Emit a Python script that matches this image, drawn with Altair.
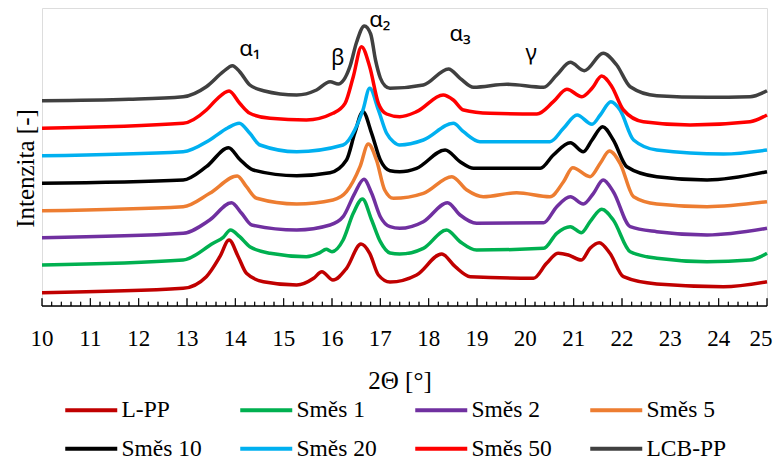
import altair as alt
import pandas as pd
import numpy as np

SERIES = ["L-PP", "Směs 1", "Směs 2", "Směs 5", "Směs 10", "Směs 20", "Směs 50", "LCB-PP"]
COLORS = ["#C00000", "#00B050", "#7030A0", "#ED7D31", "#000000", "#00B0F0", "#FF0000", "#404040"]

# ---- curves (2Θ, stacked intensity in arbitrary units) ----
lpp_x = [10, 12.92, 13.4, 13.68, 13.87, 14.06, 14.23, 14.58, 15.27, 15.62, 15.79, 16.02, 16.3, 16.6, 16.78, 16.96, 17.2, 17.75, 18.27, 18.55, 18.86, 20.17, 20.44, 20.68, 20.89, 21.16, 21.34, 21.53, 21.75, 22.03, 22.72, 24.1, 25]
lpp_y = [13.3, 17.7, 29.3, 49.3, 66, 49.3, 32.7, 24.3, 21, 27.7, 34.3, 26, 37.7, 62, 52.7, 31, 24, 31, 52, 39.3, 29.3, 27.7, 42.7, 52.7, 51, 46, 57.7, 63.3, 52.7, 29.3, 22, 19.3, 24.3]

s1_x = [10, 12.92, 13.54, 13.75, 13.9, 14.09, 14.3, 14.72, 15.47, 15.75, 15.88, 16.0, 16.23, 16.44, 16.63, 16.82, 17.0, 17.2, 17.4, 17.89, 18.37, 18.65, 18.99, 20.38, 20.65, 20.93, 21.16, 21.34, 21.58, 21.82, 22.17, 22.72, 23.76, 24.65, 25]
s1_y = [41, 46, 62.7, 68.7, 76, 69.3, 59.3, 52.7, 49.3, 53.3, 56.7, 54.3, 66, 92.7, 107, 86, 64.3, 53, 52, 57.7, 76, 64.3, 56, 57.7, 72.7, 79.3, 73.3, 84.3, 96.7, 86, 54.3, 47.7, 44.3, 46, 52.7]

s2_x = [10, 12.92, 13.47, 13.92, 14.13, 14.34, 15.27, 15.96, 16.23, 16.47, 16.66, 16.82, 17.0, 17.2, 17.4, 17.89, 18.39, 18.65, 18.99, 20.38, 20.65, 20.93, 21.2, 21.41, 21.61, 21.82, 22.17, 22.72, 23.76, 25]
s2_y = [68.3, 72.7, 86, 103.3, 92.7, 81, 76, 81, 89.3, 112.7, 126.7, 112.7, 89.3, 79.3, 77.7, 84.3, 103.3, 91, 82.7, 83.3, 99.3, 109.3, 102, 112.7, 126, 114.3, 79.3, 74.3, 71, 77.7]

s5_x = [10, 12.92, 13.47, 14.04, 14.23, 14.44, 15.27, 16.02, 16.3, 16.58, 16.75, 16.92, 17.09, 17.27, 17.89, 18.48, 18.79, 19.13, 19.82, 20.51, 20.79, 20.98, 21.34, 21.55, 21.74, 21.96, 22.24, 22.72, 23.76, 25]
s5_y = [95.3, 99.3, 112.7, 130, 119.3, 107.7, 102, 106, 114.3, 139.3, 162, 146, 116, 107.7, 112.7, 129.3, 116, 109.3, 113.3, 109.3, 124.3, 138.3, 129.3, 142.7, 155, 142.7, 109.3, 102, 99.3, 104.3]

s10_x = [10, 12.92, 13.4, 13.86, 14.09, 14.37, 15.27, 15.96, 16.3, 16.47, 16.64, 16.82, 17.0, 17.2, 17.4, 17.75, 18.34, 18.65, 18.93, 20.31, 20.58, 20.93, 21.2, 21.38, 21.6, 21.82, 22.1, 22.72, 23.76, 25]
s10_y = [122.7, 126, 139.3, 158.3, 146.7, 136, 130.3, 133.3, 146, 172.7, 194.3, 172.7, 146, 135.3, 134.3, 137.7, 156, 144.3, 137.7, 137.7, 151, 163.3, 154.3, 166, 179.3, 166, 139.3, 129.3, 126, 134.3]

s20_x = [10, 12.92, 13.47, 13.84, 14.08, 14.3, 14.51, 15.27, 16.23, 16.47, 16.64, 16.78, 16.96, 17.13, 17.27, 17.4, 17.89, 18.51, 18.72, 19.06, 20.51, 20.79, 21.07, 21.38, 21.55, 21.77, 21.96, 22.24, 22.72, 24.1, 25]
s20_y = [150.3, 154.3, 166, 178, 182.7, 172.7, 161, 154.3, 161, 176, 196, 217.7, 196, 172.7, 164.3, 161, 166, 182.7, 174.3, 164.3, 164.3, 177.7, 191, 181.7, 191, 204.3, 196, 166, 156, 152, 156]

s50_x = [10, 12.92, 13.4, 13.6, 13.87, 14.09, 14.3, 14.72, 15.47, 16.02, 16.27, 16.44, 16.61, 16.78, 16.96, 17.13, 17.4, 17.75, 18.3, 18.51, 18.72, 19.27, 20.24, 20.58, 20.86, 21.17, 21.38, 21.58, 21.79, 22.03, 22.44, 23.41, 24.65, 25]
s50_y = [177.7, 182.7, 196, 206, 215, 202.7, 192.7, 187.7, 186, 192.7, 202.7, 229.3, 259.3, 239.3, 202.7, 192, 189.3, 194.3, 211, 206, 196, 192.7, 192, 204.3, 216.7, 209.3, 217.7, 230, 219.3, 196, 184.3, 181, 184.3, 191]

lcb_x = [10, 11.8, 12.92, 13.4, 13.75, 13.94, 14.09, 14.3, 14.58, 15.27, 15.68, 15.96, 16.13, 16.37, 16.51, 16.67, 16.8, 16.9, 17.0, 17.1, 17.2, 17.89, 18.41, 18.65, 18.93, 19.62, 20.38, 20.65, 20.93, 21.22, 21.61, 21.89, 22.17, 22.72, 23.76, 24.65, 25]
lcb_y = [205.3, 206.7, 209.3, 219.3, 234.3, 240.3, 234.3, 221, 215.3, 211, 216, 224.3, 222, 239.3, 264, 280, 272, 246, 228, 220, 217.7, 221, 237, 227.7, 218.7, 221.7, 218.7, 231, 243.7, 235.3, 252.7, 241, 219.3, 210.3, 208.7, 209.3, 215.3]

XS = [lpp_x, s1_x, s2_x, s5_x, s10_x, s20_x, s50_x, lcb_x]
YS = [lpp_y, s1_y, s2_y, s5_y, s10_y, s20_y, s50_y, lcb_y]

# ---- peak labels ----
peak_labels = ["α₁", "β", "α₂", "α₃", "γ"]
peak_x = [14.3, 16.12, 16.99, 18.65, 20.12]
peak_y = [257, 248, 286, 272, 253]

x_ticks = list(range(10, 26))
x_title = "2Θ [°]"
y_title = "Intenzita [-]"

rows = []
for name, xs, ys in zip(SERIES, XS, YS):
    for i, (a, b) in enumerate(zip(xs, ys)):
        rows.append({"series": name, "x": a, "y": b, "i": i})
df = pd.DataFrame(rows)

MAJOR_LEN, MINOR_LEN = 7.7, 4.3
labels_df = pd.DataFrame({"label": peak_labels, "x": peak_x, "y": peak_y})
major_df = pd.DataFrame({"x": x_ticks, "label": [str(v) for v in x_ticks],
                         "len": [MAJOR_LEN] * len(x_ticks), "base": [0.0] * len(x_ticks)})
minor_vals = [round(v, 1) for v in np.arange(10, 25.0001, 0.2) if abs(v - round(v)) > 1e-6]
minor_df = pd.DataFrame({"x": minor_vals, "len": [MINOR_LEN] * len(minor_vals),
                         "base": [0.0] * len(minor_vals)})
title_df = pd.DataFrame({"t": [x_title]})
domain_df = pd.DataFrame({"a": [10], "b": [25], "lo": [-0.65], "hi": [0.65]})

SERIF = "Liberation Serif"
W, H = 725, 298

xscale = alt.Scale(domain=[10, 25], nice=False, zero=False)
yscale = alt.Scale(domain=[0, H], nice=False, zero=False)

Y_AXIS = alt.Axis(
    labels=False, ticks=False, domain=False, grid=False,
    title=y_title, titleFont=SERIF, titleFontSize=25, titleFontWeight="normal",
    titleColor="black", titleBaseline="alphabetic", titleAlign="center",
    titleX=-9, titleY=160)

lines = alt.Chart(df).mark_line(strokeWidth=3.5, interpolate="monotone").encode(
    x=alt.X("x:Q", scale=xscale, axis=None),
    y=alt.Y("y:Q", scale=yscale, axis=Y_AXIS),
    color=alt.Color("series:N", scale=alt.Scale(domain=SERIES, range=COLORS),
                    legend=alt.Legend(orient="none", direction="horizontal",
                                      legendX=37.5, legendY=390, columns=4,
                                      symbolType="M-4,0L4,0", symbolSize=169, symbolStrokeWidth=4,
                                      labelFont=SERIF, labelFontSize=23.5, labelColor="black",
                                      labelOffset=18.5, labelLimit=300, columnPadding=29,
                                      rowPadding=14, title=None)),
    order=alt.Order("i:Q"),
)

# x axis drawn from the scales: baseline, inward ticks, tick labels, title
domain_rect = alt.Chart(domain_df).mark_rect(color="black").encode(
    x=alt.X("a:Q", scale=xscale, axis=None), x2="b:Q",
    y=alt.Y("lo:Q", scale=yscale), y2="hi:Q")
major_rect = alt.Chart(major_df).mark_rect(color="black", width=1).encode(
    x=alt.X("x:Q", scale=xscale, axis=None),
    y=alt.Y("base:Q", scale=yscale), y2="len:Q")
minor_rect = alt.Chart(minor_df).mark_rect(color="black", width=1).encode(
    x=alt.X("x:Q", scale=xscale, axis=None),
    y=alt.Y("base:Q", scale=yscale), y2="len:Q")
major_tick = alt.Chart(major_df).mark_tick(color="black", thickness=1, size=MAJOR_LEN,
                                           orient="vertical").encode(
    x=alt.X("x:Q", scale=xscale, axis=None), y=alt.value(H - MAJOR_LEN / 2))
minor_tick = alt.Chart(minor_df).mark_tick(color="black", thickness=1, size=MINOR_LEN,
                                           orient="vertical").encode(
    x=alt.X("x:Q", scale=xscale, axis=None), y=alt.value(H - MINOR_LEN / 2))

tick_labels = alt.Chart(major_df[major_df.x < 25]).mark_text(
    font=SERIF, fontSize=23, color="black", align="center", baseline="alphabetic").encode(
    x=alt.X("x:Q", scale=xscale, axis=None), y=alt.value(H + 40), text="label:N")
last_label = alt.Chart(major_df[major_df.x == 25]).mark_text(
    font=SERIF, fontSize=23, color="black", align="center", baseline="alphabetic", dx=-6).encode(
    x=alt.X("x:Q", scale=xscale, axis=None), y=alt.value(H + 40), text="label:N")
x_title_mark = alt.Chart(title_df).mark_text(
    font=SERIF, fontSize=25, color="black", align="center", baseline="alphabetic").encode(
    x=alt.value(358), y=alt.value(H + 83), text="t:N")

text = alt.Chart(labels_df).mark_text(font="Noto Sans", fontSize=22, color="black",
                                      align="center", baseline="middle").encode(
    x=alt.X("x:Q", scale=xscale, axis=None),
    y=alt.Y("y:Q", scale=yscale),
    text="label:N")

chart = alt.layer(lines, domain_rect, major_rect, minor_rect, major_tick, minor_tick,
                  tick_labels, last_label, x_title_mark, text).properties(
    width=W, height=H,
    padding={"left": 34, "top": 0, "right": 7, "bottom": 150},
    autosize=alt.AutoSizeParams(type="none"),
).configure_view(stroke=None).configure(background="white")

chart.save("out.html", embed_options={"renderer": "svg", "actions": False})
